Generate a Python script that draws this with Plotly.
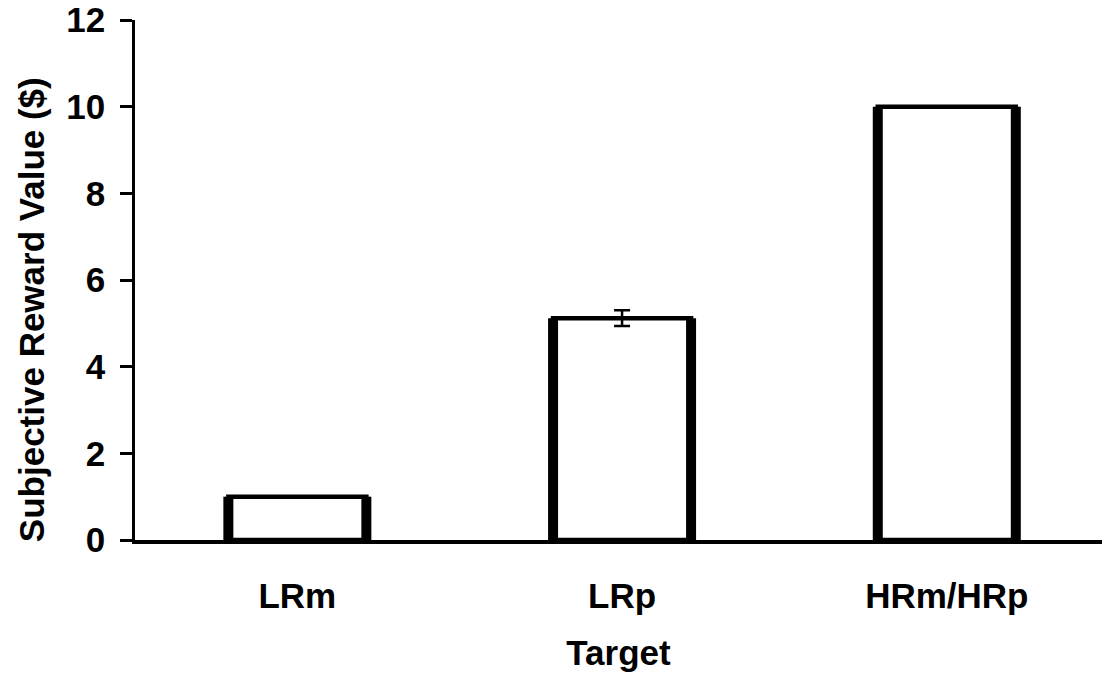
import plotly.graph_objects as go

# Subjective reward value per target type
targets = ["LRm", "LRp", "HRm/HRp"]
values = [1.0, 5.12, 10.0]
errors = [0.0, 0.18, 0.0]
y_ticks = [0, 2, 4, 6, 8, 10, 12]

positions = list(range(len(targets)))
bar_width = 0.425
font = dict(family="Liberation Sans, Arial, sans-serif", size=35, color="black", weight="bold")

fig = go.Figure()
fig.add_trace(go.Bar(
    x=positions,
    y=values,
    width=bar_width,
    marker=dict(color="white", line=dict(color="black", width=4.5)),
    error_y=dict(type="data", array=errors, visible=True, color="black",
                 thickness=2.5, width=8),
    showlegend=False,
))

# Heavier side strokes on each bar
shapes = []
for pos, val in zip(positions, values):
    for side in (-1, 1):
        xs = pos + side * bar_width / 2
        shapes.append(dict(type="line", xref="x", yref="y",
                           x0=xs, x1=xs, y0=0, y1=val,
                           line=dict(color="black", width=10)))

fig.update_layout(
    width=1102, height=679,
    margin=dict(l=135, r=0, t=20, b=139),
    plot_bgcolor="white", paper_bgcolor="white",
    font=font,
    shapes=shapes,
    xaxis=dict(
        range=[-0.5, 2.478],
        tickvals=positions, ticktext=targets,
        showline=True, linecolor="black", linewidth=3.5,
        ticks="", showgrid=False, zeroline=False,
        ticklabelstandoff=22,
        title=dict(text="Target", font=font, standoff=28),
    ),
    yaxis=dict(
        range=[0, 12], tickvals=y_ticks,
        showline=True, linecolor="black", linewidth=2.5,
        ticks="outside", ticklen=12, tickwidth=2.5, tickcolor="black",
        showgrid=False, zeroline=False,
        ticklabelstandoff=8,
    ),
    annotations=[dict(
        text="Subjective Reward Value ($)", font=font,
        textangle=-90, showarrow=False,
        xref="paper", yref="paper", x=0, y=0.442,
        xanchor="center", yanchor="middle", xshift=-104,
    )],
)

fig.write_html("out.html")
